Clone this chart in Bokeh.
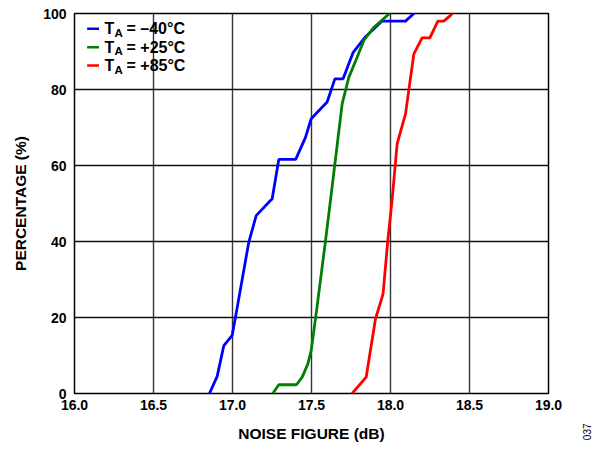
import math
from bokeh.plotting import figure
from bokeh.models import Label, Arrow, Range1d, FixedTicker
from bokeh.layouts import row
from bokeh.embed import file_html
from bokeh.resources import INLINE

# ---- data ----
x_m40 = [16.854, 16.903, 16.945, 16.998, 17.019, 17.103, 17.150, 17.240, 17.251, 17.293,
         17.400, 17.462, 17.498, 17.599, 17.648, 17.700, 17.764, 17.842, 17.947, 18.095, 18.148]
y_m40 = [0, 4.5, 12.6, 15.3, 20.1, 39.8, 46.8, 50.8, 51.2, 61.6,
         61.6, 67.4, 72.3, 76.7, 82.8, 82.8, 89.8, 93.9, 98.0, 98.0, 100]

x_p25 = [17.255, 17.293, 17.405, 17.441, 17.477, 17.498, 17.532, 17.589, 17.620, 17.694,
         17.736, 17.789, 17.831, 17.895, 17.994]
y_p25 = [0, 2.3, 2.3, 4.3, 7.8, 11.3, 21.8, 40.3, 50.8, 76.2,
         83.2, 88.5, 92.9, 96.4, 100]

x_p85 = [17.757, 17.846, 17.890, 17.905, 17.953, 17.983, 18.010, 18.042, 18.095, 18.148,
         18.200, 18.249, 18.300, 18.337, 18.380, 18.390]
y_p85 = [0, 4.3, 15.7, 19.6, 26.2, 40.3, 50.8, 65.7, 73.6, 89.4,
         93.6, 93.6, 98.0, 98.0, 99.5, 100]

series_names = ["–40°C", "+25°C", "+85°C"]
series_colors = ["#0000FF", "#008000", "#FF0000"]

x_ticks = [16.0, 16.5, 17.0, 17.5, 18.0, 18.5, 19.0]
y_ticks = [0, 20, 40, 60, 80, 100]
fig_number = "037"

FONT = "Liberation Sans, Arial, sans-serif"

p = figure(frame_width=474, frame_height=380, output_backend="svg", toolbar_location=None,
           x_range=Range1d(16.0, 19.0), y_range=Range1d(0, 100),
           min_border_left=74, min_border_right=28, min_border_top=13, min_border_bottom=55)

p.outline_line_color = "black"
p.outline_line_width = 1.5
p.background_fill_color = "white"
p.border_fill_color = "white"

for ax in (p.xaxis[0], p.yaxis[0]):
    ax.axis_line_color = None
    ax.major_tick_line_color = None
    ax.minor_tick_line_color = None
    ax.major_tick_in = 0
    ax.major_tick_out = 0
    ax.major_label_text_font = FONT
    ax.major_label_text_font_style = "bold"
    ax.major_label_text_font_size = "14px"
    ax.major_label_text_color = "black"
    ax.axis_label_text_font = FONT
    ax.axis_label_text_font_style = "bold"
    ax.axis_label_text_font_size = "15.5px"
    ax.axis_label_text_color = "black"

p.xaxis.ticker = FixedTicker(ticks=x_ticks)
p.yaxis.ticker = FixedTicker(ticks=y_ticks)
p.xaxis.major_label_overrides = {t: f"{t:.1f}" for t in x_ticks}
p.xaxis.axis_label = "NOISE FIGURE (dB)"
p.yaxis.axis_label = "PERCENTAGE (%)"
p.xaxis.major_label_standoff = 6
p.yaxis.major_label_standoff = 8
p.xaxis.axis_label_standoff = 12
p.yaxis.axis_label_standoff = 11

p.xgrid.grid_line_color = "#333333"
p.ygrid.grid_line_color = "#111111"
p.xgrid.grid_line_width = 1.4
p.ygrid.grid_line_width = 1.4

for xs, ys, c in zip([x_m40, x_p25, x_p85], [y_m40, y_p25, y_p85], series_colors):
    p.line(xs, ys, line_color=c, line_width=2.8)

# ---- custom legend (T with subscript A) ----
row_y = [96.0, 91.1, 86.3]
for name, c, yy in zip(series_names, series_colors, row_y):
    p.add_layout(Arrow(x_start=16.08, y_start=yy, x_end=16.155, y_end=yy,
                       end=None, line_color=c, line_width=2.6))
    p.add_layout(Label(x=16.0, y=yy, x_offset=30, text="T", text_font=FONT,
                       text_font_style="bold", text_font_size="16px",
                       text_baseline="middle", text_align="left", text_color="black"))
    p.add_layout(Label(x=16.0, y=yy, x_offset=40, y_offset=-4, text="A", text_font=FONT,
                       text_font_style="bold", text_font_size="11.5px",
                       text_baseline="middle", text_align="left", text_color="black"))
    p.add_layout(Label(x=16.0, y=yy, x_offset=52, text="= " + name, text_font=FONT,
                       text_font_style="bold", text_font_size="16px",
                       text_baseline="middle", text_align="left", text_color="black"))

# ---- narrow side strip carrying the rotated figure number ----
p2 = figure(frame_width=22, frame_height=380, output_backend="svg", toolbar_location=None,
            x_range=Range1d(0, 22), y_range=Range1d(0, 100), y_axis_location=None,
            min_border_left=0, min_border_right=0, min_border_top=13, min_border_bottom=55)
p2.grid.visible = False
p2.outline_line_color = None
p2.background_fill_color = "white"
p2.border_fill_color = "white"
ax2 = p2.xaxis[0]
ax2.ticker = FixedTicker(ticks=[10])
ax2.major_label_overrides = {10: fig_number}
ax2.major_label_orientation = math.pi / 2
ax2.major_label_text_font = FONT
ax2.major_label_text_font_size = "10px"
ax2.major_label_text_color = "black"
ax2.major_label_standoff = 30
ax2.axis_line_color = None
ax2.major_tick_line_color = None
ax2.minor_tick_line_color = None
ax2.major_tick_in = 0
ax2.major_tick_out = 0

layout = row(p, p2, spacing=0)
open("out.html", "w").write(file_html(layout, INLINE))
